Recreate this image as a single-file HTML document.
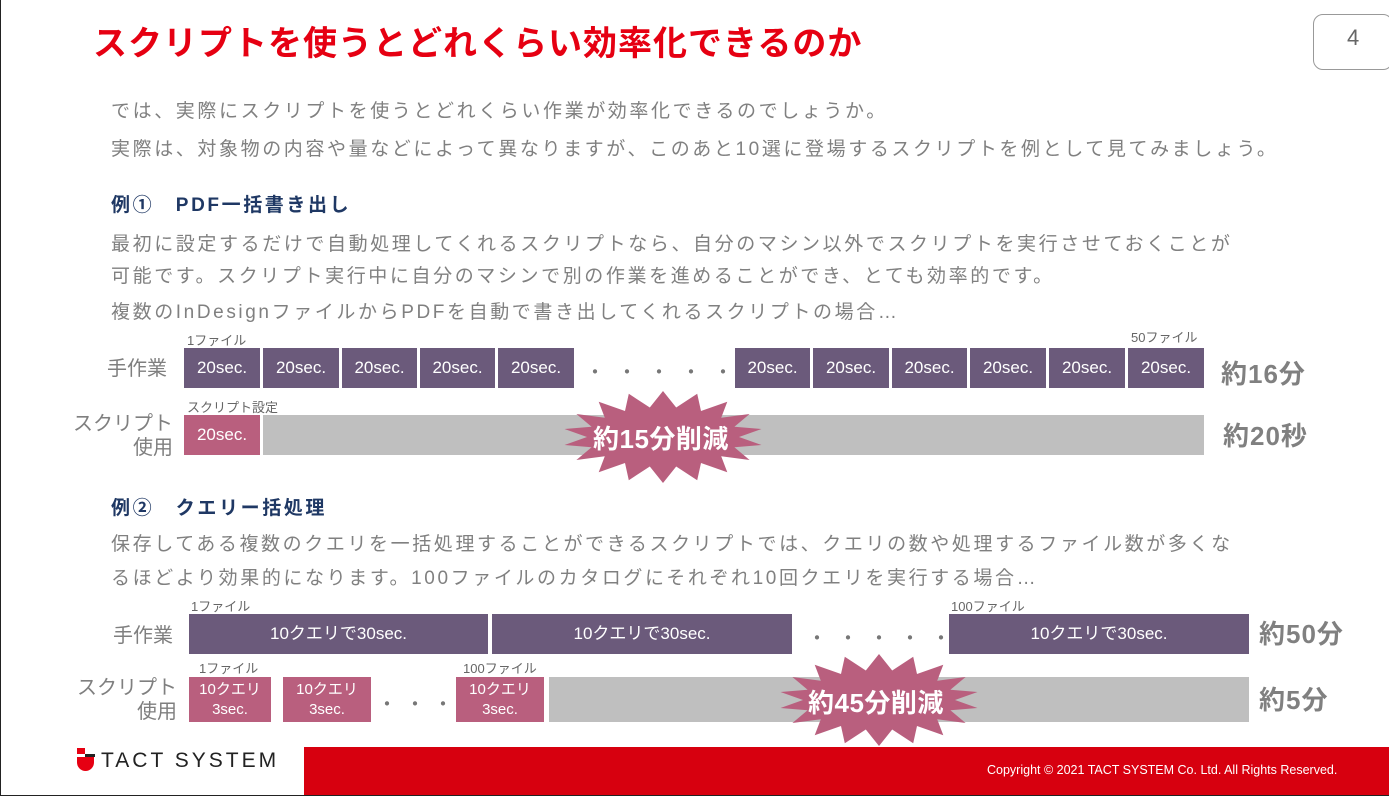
<!DOCTYPE html>
<html><head><meta charset="utf-8"><style>
*{margin:0;padding:0;box-sizing:border-box}
body{width:1389px;height:796px;position:relative;background:#fff;overflow:hidden;font-family:"Liberation Sans","Noto Sans CJK JP",sans-serif;border-left:1px solid #222;border-bottom:1px solid #222}
.a{position:absolute;white-space:nowrap}
.t{color:#808080;font-size:19px;letter-spacing:2.6px}
.h{color:#1f3864;font-size:19px;font-weight:bold;letter-spacing:2.6px}
.p{position:absolute;background:#6b5a7b;color:#fff;font-size:17px;display:flex;align-items:center;justify-content:center;text-align:center;line-height:20px}
.k{position:absolute;background:#b95f7e;color:#fff;font-size:15px;display:flex;align-items:center;justify-content:center;text-align:center;line-height:20px}
.g{position:absolute;background:#bfbfbf}
.s{color:#666;font-size:13px}
.l{color:#7f7f7f;font-size:20px;text-align:right;line-height:24px}
.r{color:#808080;font-size:26px;font-weight:bold;letter-spacing:1px}
</style></head><body>
<div class="a" style="left:92px;top:16px;color:#e60012;font-size:34px;font-weight:bold;letter-spacing:1px">スクリプトを使うとどれくらい効率化できるのか</div>
<div class="a" style="left:1312px;top:14px;width:80px;height:56px;border:1px solid #999;border-radius:10px;color:#666;font-size:22px;padding:10px 0 0 33px">4</div>

<div class="a t" style="left:110px;top:96px">では、実際にスクリプトを使うとどれくらい作業が効率化できるのでしょうか。</div>
<div class="a t" style="left:110px;top:134px">実際は、対象物の内容や量などによって異なりますが、このあと10選に登場するスクリプトを例として見てみましょう。</div>
<div class="a h" style="left:110px;top:190px">例①　PDF一括書き出し</div>
<div class="a t" style="left:110px;top:229px">最初に設定するだけで自動処理してくれるスクリプトなら、自分のマシン以外でスクリプトを実行させておくことが</div>
<div class="a t" style="left:110px;top:261px">可能です。スクリプト実行中に自分のマシンで別の作業を進めることができ、とても効率的です。</div>
<div class="a t" style="left:110px;top:297px">複数のInDesignファイルからPDFを自動で書き出してくれるスクリプトの場合…</div>

<div class="a s" style="left:186px;top:330px">1ファイル</div>
<div class="a s" style="left:1130px;top:327px">50ファイル</div>
<div class="a l" style="left:100px;top:357px;width:66px">手作業</div>
<div class="p" style="left:183px;top:348px;width:76px;height:40px">20sec.</div>
<div class="p" style="left:262px;top:348px;width:76px;height:40px">20sec.</div>
<div class="p" style="left:341px;top:348px;width:75px;height:40px">20sec.</div>
<div class="p" style="left:419px;top:348px;width:75px;height:40px">20sec.</div>
<div class="p" style="left:497px;top:348px;width:76px;height:40px">20sec.</div>
<div class="a" style="left:584px;top:356px;color:#777;font-size:20px;letter-spacing:12px">・・・・・</div>
<div class="p" style="left:734px;top:348px;width:75px;height:40px">20sec.</div>
<div class="p" style="left:812px;top:348px;width:76px;height:40px">20sec.</div>
<div class="p" style="left:891px;top:348px;width:75px;height:40px">20sec.</div>
<div class="p" style="left:969px;top:348px;width:76px;height:40px">20sec.</div>
<div class="p" style="left:1048px;top:348px;width:76px;height:40px">20sec.</div>
<div class="p" style="left:1127px;top:348px;width:76px;height:40px">20sec.</div>
<div class="a r" style="left:1220px;top:354px">約16分</div>

<div class="a s" style="left:186px;top:397px">スクリプト設定</div>
<div class="a l" style="left:56px;top:412px;width:116px">スクリプト<br>使用</div>
<div class="k" style="left:183px;top:415px;width:76px;height:40px;font-size:17px">20sec.</div>
<div class="g" style="left:262px;top:415px;width:941px;height:40px"></div>
<div class="a r" style="left:1222px;top:416px">約20秒</div>

<div class="a h" style="left:110px;top:493px">例②　クエリー括処理</div>
<div class="a t" style="left:110px;top:529px">保存してある複数のクエリを一括処理することができるスクリプトでは、クエリの数や処理するファイル数が多くな</div>
<div class="a t" style="left:110px;top:563px">るほどより効果的になります。100ファイルのカタログにそれぞれ10回クエリを実行する場合…</div>

<div class="a s" style="left:190px;top:596px">1ファイル</div>
<div class="a s" style="left:950px;top:596px">100ファイル</div>
<div class="a l" style="left:100px;top:624px;width:72px">手作業</div>
<div class="p" style="left:188px;top:614px;width:299px;height:40px">10クエリで30sec.</div>
<div class="p" style="left:491px;top:614px;width:300px;height:40px">10クエリで30sec.</div>
<div class="a" style="left:806px;top:622px;color:#777;font-size:20px;letter-spacing:11px">・・・・・</div>
<div class="p" style="left:948px;top:614px;width:300px;height:40px">10クエリで30sec.</div>
<div class="a r" style="left:1258px;top:614px">約50分</div>

<div class="a s" style="left:198px;top:658px">1ファイル</div>
<div class="a s" style="left:462px;top:658px">100ファイル</div>
<div class="a l" style="left:56px;top:676px;width:120px">スクリプト<br>使用</div>
<div class="k" style="left:188px;top:677px;width:82px;height:45px">10クエリ<br>3sec.</div>
<div class="k" style="left:282px;top:677px;width:88px;height:45px">10クエリ<br>3sec.</div>
<div class="a" style="left:376px;top:688px;color:#777;font-size:20px;letter-spacing:8px">・・・</div>
<div class="k" style="left:455px;top:677px;width:88px;height:45px">10クエリ<br>3sec.</div>
<div class="g" style="left:548px;top:677px;width:700px;height:45px"></div>
<div class="a r" style="left:1258px;top:680px">約5分</div>

<svg class="a" style="left:0;top:0" width="1389" height="796" id="sv"></svg>
<div class="a" style="left:592px;top:419px;color:#fff;font-size:26px;font-weight:bold;letter-spacing:0.5px">約15分削減</div>
<div class="a" style="left:807px;top:683px;color:#fff;font-size:26px;font-weight:bold;letter-spacing:0.5px">約45分削減</div>

<div class="a" style="left:303px;top:747px;width:1086px;height:48px;background:#d7000f"></div>
<div class="a" style="left:986px;top:763px;color:#fff;font-size:12.5px">Copyright © 2021 TACT SYSTEM Co. Ltd. All Rights Reserved.</div>
<div class="a" style="left:76px;top:748px;width:18px;height:24px">
<div class="a" style="left:0;top:0;width:8px;height:6px;background:#e60012"></div>
<div class="a" style="left:8px;top:6px;width:10px;height:3px;background:#222"></div>
<div class="a" style="left:0;top:9px;width:17px;height:14px;background:#e60012;border-radius:0 0 9px 9px"></div>
</div>
<div class="a" style="left:100px;top:749px;color:#222;font-size:21px;letter-spacing:3px">TACT SYSTEM</div>
<script>
function star(cx,cy,rx,ry,ix,iy,n){let p=[];for(let i=0;i<2*n;i++){let a=Math.PI*i/n-Math.PI/2;let o=i%2==0;p.push((cx+(o?rx:ix)*Math.cos(a)).toFixed(1)+","+(cy+(o?ry:iy)*Math.sin(a)).toFixed(1));}return p.join(" ");}
const s=document.getElementById('sv');
s.innerHTML='<polygon fill="#b95f7e" points="'+star(662,437,100,46,76,30,18)+'"/><polygon fill="#b95f7e" points="'+star(878,700,100,46,76,30,18)+'"/>';
</script>
</body></html>
